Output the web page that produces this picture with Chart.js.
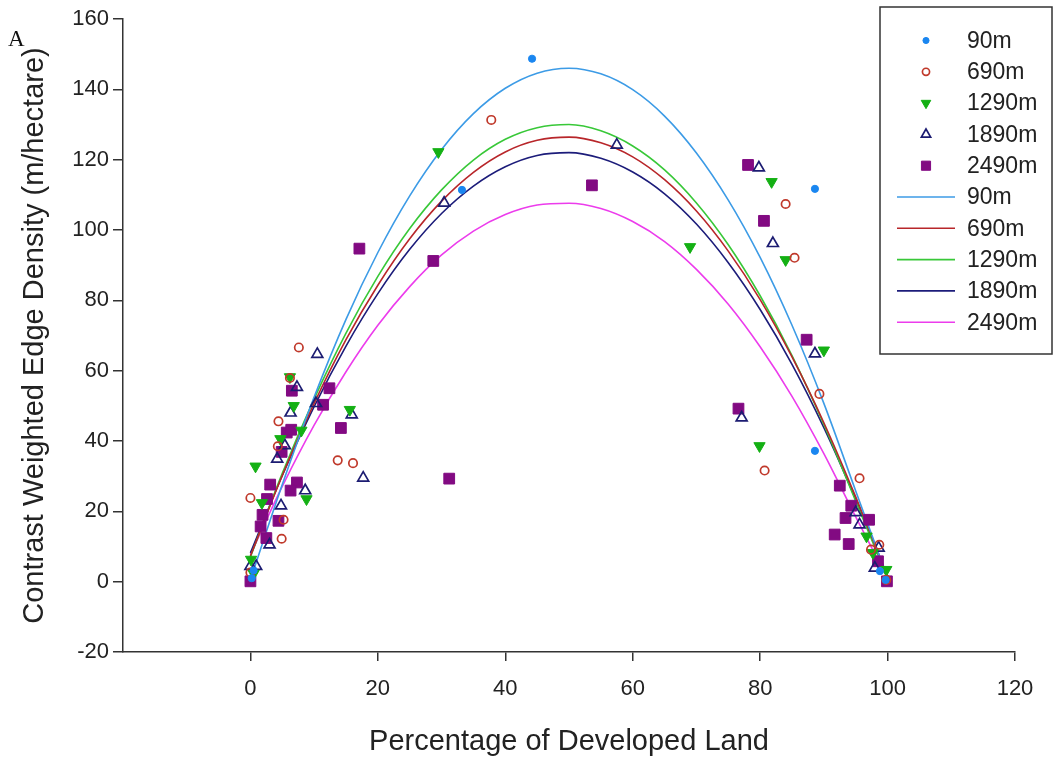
<!DOCTYPE html>
<html>
<head>
<meta charset="utf-8">
<script src="https://cdn.jsdelivr.net/npm/chart.js@4"></script>
<style>
  html, body { margin: 0; padding: 0; background: #ffffff; }
  #wrap { width: 1062px; height: 761px; position: relative; }
</style>
</head>
<body>
<div id="wrap"><canvas id="c" width="1062" height="761"></canvas></div>
<script>
// Buffer distances shown in the legend
const bufferLabels = ['90m', '690m', '1290m', '1890m', '2490m'];

// Observed [percent developed, edge density] pairs per buffer
const obs90m = [[44.2,148.7],[33.2,111.4],[88.6,111.7],[88.6,37.2],[0.2,1.0],[0.5,3.2],[99.7,0.5],[98.8,3.0]];
const obs690m = [[37.8,131.3],[84.0,107.4],[85.4,92.1],[89.3,53.4],[80.7,31.6],[95.6,29.4],[98.7,10.5],[97.4,9.1],
  [7.6,66.6],[4.4,45.6],[6.2,57.9],[4.3,38.5],[13.7,34.5],[16.1,33.7],[0,23.8],[5.2,17.6],[4.9,12.2],[0,2.6],[99.8,0.5]];
const obs1290m = [[29.5,122.2],[81.8,113.7],[84.0,91.5],[90.0,65.8],[69.0,95.2],[79.9,38.6],[6.2,58.2],[6.8,50.0],
  [0.8,32.8],[4.7,40.6],[15.6,48.9],[8.8,23.5],[8.0,43.0],[1.8,22.4],[0.1,6.3],[0.5,2.3],[96.7,12.9],[97.7,8.2],[99.8,3.4]];
const obs1890m = [[30.4,107.7],[57.5,124.2],[79.8,117.7],[82.0,96.2],[88.6,64.8],[77.1,46.6],[10.5,64.7],[7.3,55.3],
  [6.3,48.0],[15.9,47.5],[5.4,38.7],[4.2,34.9],[17.7,29.5],[8.6,25.9],[4.8,21.6],[3.0,10.5],[0,4.4],[0.9,4.4],
  [10.3,50.7],[95.0,19.7],[95.6,16.2],[98.0,3.9],[98.6,9.6]];
const obs2490m = [[53.6,112.7],[17.1,94.7],[28.7,91.2],[78.1,118.5],[80.6,102.6],[87.3,68.8],[76.6,49.2],[31.2,29.3],
  [92.5,27.3],[94.3,21.6],[93.4,18.1],[91.7,13.4],[93.9,10.7],[97.1,17.6],[98.5,5.8],[99.9,0.1],[6.5,54.3],[12.4,55.0],
  [11.4,50.3],[14.2,43.7],[5.7,42.4],[6.4,43.2],[4.9,36.9],[3.1,27.6],[2.6,23.5],[7.3,28.2],[6.3,25.9],[4.4,17.3],
  [1.6,15.7],[2.5,12.4],[1.9,19.0],[0,0.1]];

// Fitted quadratic trend lines, sampled every 5 percentage points
const fitX = [0,5,10,15,20,25,30,35,40,45,50,55,60,65,70,75,80,85,90,95,100];
const fit90m   = [0.5,27.6,52.5,74.6,93.6,109.7,122.9,133.1,140.3,144.6,146.0,144.4,139.9,132.4,121.9,108.5,92.2,72.9,50.7,25.8,1.0];
const fit690m  = [7.3,30.2,50.7,68.8,84.3,97.5,108.2,116.4,122.2,125.5,126.4,124.8,120.8,114.3,105.4,94.0,80.2,63.9,45.2,24.1,1.5];
const fit1290m = [7.0,30.8,52.0,70.7,86.8,100.4,111.4,119.9,125.8,129.1,130.0,128.2,123.9,117.1,107.7,95.8,81.3,64.3,44.7,22.9,1.0];
const fit1890m = [8.2,30.2,49.8,67.0,81.9,94.5,104.7,112.5,118.0,121.2,122.0,120.4,116.5,110.3,101.7,90.7,77.4,61.8,43.8,23.4,1.5];
const fit2490m = [7.7,27.1,44.5,59.7,72.9,83.9,92.9,99.7,104.4,107.1,107.6,106.1,102.4,96.7,88.8,78.9,66.8,52.7,36.4,18.4,1.0];

// Axis ticks
const xTicks = [0, 20, 40, 60, 80, 100, 120];
const yTicks = [-20, 0, 20, 40, 60, 80, 100, 120, 140, 160];

const toPoints = arr => arr.map(p => ({ x: p[0], y: p[1] }));
const toCurve = ys => fitX.map((x, i) => ({ x: x, y: ys[i] }));

const markerStyles = [
  { style: 'circle',   radius: 3.6, fill: '#1a86f0', stroke: '#1a86f0', width: 1,   rotation: 0 },
  { style: 'circle',   radius: 4.2, fill: 'rgba(255,255,255,0)', stroke: '#c0392b', width: 1.7, rotation: 0 },
  { style: 'triangle', radius: 6.5, fill: '#14b014', stroke: '#14b014', width: 1,   rotation: 180 },
  { style: 'triangle', radius: 6.3, fill: 'rgba(255,255,255,0)', stroke: '#1c1c72', width: 1.7, rotation: 0 },
  { style: 'rect',     radius: 7.6, fill: '#820a82', stroke: '#820a82', width: 1,   rotation: 0 }
];
const lineColors = ['#3c9be6', '#b8262a', '#38c838', '#1c1c7a', '#ec3cec'];

const observed = [obs90m, obs690m, obs1290m, obs1890m, obs2490m];
const fits = [fit90m, fit690m, fit1290m, fit1890m, fit2490m];

const datasets = [];
observed.forEach((obs, i) => {
  const m = markerStyles[i];
  datasets.push({
    label: bufferLabels[i],
    data: toPoints(obs),
    showLine: false,
    pointStyle: m.style,
    pointRadius: m.radius,
    pointRotation: m.rotation,
    pointBackgroundColor: m.fill,
    pointBorderColor: m.stroke,
    pointBorderWidth: m.width,
    order: 1
  });
});
fits.forEach((ys, i) => {
  datasets.push({
    label: bufferLabels[i],
    data: toCurve(ys),
    showLine: true,
    borderColor: lineColors[i],
    borderWidth: 1.6,
    pointRadius: 0,
    cubicInterpolationMode: 'monotone',
    fill: false,
    order: 2
  });
});

// Framed legend in the upper-right corner plus the panel letter
const panelDecor = {
  id: 'panelDecor',
  afterDraw(chart) {
    const ctx = chart.ctx;
    ctx.save();
    // panel letter
    ctx.fillStyle = '#111';
    ctx.font = '23px "Liberation Serif", "Times New Roman", serif';
    ctx.textBaseline = 'alphabetic';
    ctx.textAlign = 'left';
    ctx.fillText('A', 8, 46);

    // legend frame
    const box = { x: 880, y: 7, w: 172, h: 347 };
    ctx.fillStyle = '#ffffff';
    ctx.fillRect(box.x, box.y, box.w, box.h);
    ctx.strokeStyle = '#333';
    ctx.lineWidth = 1.5;
    ctx.strokeRect(box.x, box.y, box.w, box.h);

    const rowY0 = 40.5, rowStep = 31.3, markX = 926, textX = 967;
    ctx.font = '23px "Liberation Sans", Arial, sans-serif';
    ctx.textBaseline = 'middle';
    for (let i = 0; i < 10; i++) {
      const y = rowY0 + i * rowStep;
      if (i < 5) {
        drawMarker(ctx, markerStyles[i], markX, y, 0.85);
      } else {
        ctx.strokeStyle = lineColors[i - 5];
        ctx.lineWidth = 1.6;
        ctx.beginPath();
        ctx.moveTo(897, y);
        ctx.lineTo(955, y);
        ctx.stroke();
      }
      ctx.fillStyle = '#222';
      ctx.fillText(bufferLabels[i % 5], textX, y + 1);
    }
    ctx.restore();
  }
};

function drawMarker(ctx, m, x, y, scale) {
  const r = m.radius * scale;
  ctx.beginPath();
  if (m.style === 'circle') {
    ctx.arc(x, y, r, 0, Math.PI * 2);
  } else if (m.style === 'rect') {
    const s = r / Math.SQRT2;
    ctx.rect(x - s, y - s, 2 * s, 2 * s);
  } else {
    const dir = m.rotation === 180 ? 1 : -1;
    const hw = r * 0.866;
    ctx.moveTo(x, y + dir * r);
    ctx.lineTo(x - hw, y - dir * r * 0.5);
    ctx.lineTo(x + hw, y - dir * r * 0.5);
    ctx.closePath();
  }
  ctx.fillStyle = m.fill;
  ctx.fill();
  ctx.strokeStyle = m.stroke;
  ctx.lineWidth = m.width;
  ctx.stroke();
}

const axisFont = { family: '"Liberation Sans", Arial, sans-serif', size: 22 };
const titleFont = { family: '"Liberation Sans", Arial, sans-serif', size: 29 };

new Chart(document.getElementById('c'), {
  type: 'scatter',
  data: { datasets: datasets },
  plugins: [panelDecor],
  options: {
    responsive: false,
    devicePixelRatio: 1,
    animation: false,
    layout: { padding: { top: 19, right: 47, left: 0, bottom: 0 } },
    plugins: { legend: { display: false }, tooltip: { enabled: false } },
    scales: {
      x: {
        type: 'linear',
        min: -20,
        max: 120,
        afterBuildTicks: scale => { scale.ticks = [-20].concat(xTicks).map(v => ({ value: v })); },
        afterFit: scale => { scale.height = 109; },
        ticks: {
          color: '#222',
          font: axisFont,
          padding: 15,
          maxRotation: 0,
          callback: v => (v < 0 ? '' : String(v))
        },
        grid: {
          drawOnChartArea: false,
          drawTicks: true,
          tickLength: 9,
          lineWidth: 1.5,
          color: c => (c.tick && c.tick.value < 0 ? 'rgba(0,0,0,0)' : '#333')
        },
        border: { display: true, color: '#333', width: 1.5 },
        title: {
          display: true,
          text: 'Percentage of Developed Land',
          color: '#222',
          font: titleFont,
          padding: { top: 0, bottom: 2 }
        }
      },
      y: {
        type: 'linear',
        min: -20,
        max: 160,
        afterBuildTicks: scale => { scale.ticks = yTicks.map(v => ({ value: v })); },
        afterFit: scale => { scale.width = 123; },
        ticks: {
          color: '#222',
          font: axisFont,
          padding: 4,
          callback: v => String(v)
        },
        grid: {
          drawOnChartArea: false,
          drawTicks: true,
          tickLength: 10,
          lineWidth: 1.5,
          color: '#333'
        },
        border: { display: true, color: '#333', width: 1.5 },
        title: {
          display: true,
          text: 'Contrast Weighted Edge Density (m/hectare)',
          color: '#222',
          font: titleFont,
          padding: { top: 18, bottom: 0 }
        }
      }
    }
  }
});
</script>
</body>
</html>
